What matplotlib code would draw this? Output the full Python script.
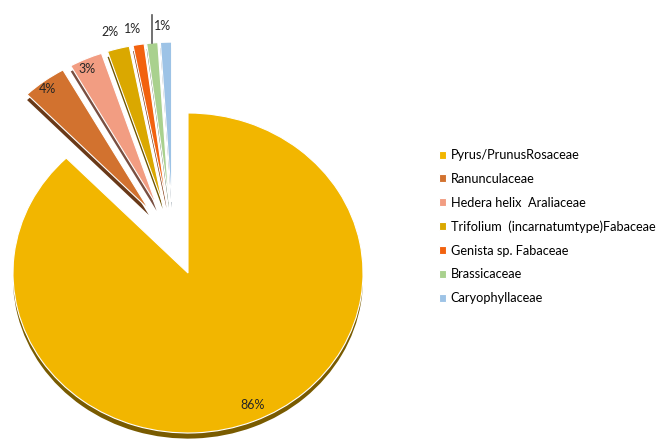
import numpy as np
import matplotlib.pyplot as plt
from matplotlib.colors import to_rgb

plt.rcParams['font.family'] = ['Lato', 'DejaVu Sans']

families = ['Pyrus/PrunusRosaceae', 'Ranunculaceae', 'Hedera helix  Araliaceae',
            'Trifolium  (incarnatumtype)Fabaceae', 'Genista sp. Fabaceae',
            'Brassicaceae', 'Caryophyllaceae']
shares = [86, 4, 3, 2, 1, 1, 1]
pct_text = ['86%', '4%', '3%', '2%', '1%', '', '1%']

colors = ['#F2B600', '#D2722F', '#F29D82', '#DAA800', '#F2620F', '#A9D18E', '#9DC3E6']
dark = [tuple(c * 0.5 for c in to_rgb(col)) for col in colors]

# label placement: (distance from slice apex, angle nudge in degrees)
lab_pos = [(0.9, 2), (0.95, 1), (0.94, 1), (1.11, 1), (1.1, 1), (0, 0), (1.1, 1)]

fig = plt.figure(figsize=(6.61, 4.40), dpi=100)
ax = fig.add_axes([0, 0, 1, 1])

depth = 0.035
expl = 0.23
# put the apex of the big exploded slice at the origin
big_mid = np.deg2rad(90 - 0.5 * shares[0] / sum(shares) * 360)
ctr = (-expl * np.cos(big_mid), -expl * np.sin(big_mid))

shadow, _ = ax.pie(shares, colors=dark, startangle=90, counterclock=False,
                   explode=[expl] * len(shares), center=(ctr[0], ctr[1] - depth),
                   wedgeprops=dict(linewidth=0))
front, _ = ax.pie(shares, colors=colors, startangle=90, counterclock=False,
                  explode=[expl] * len(shares), center=ctr,
                  wedgeprops=dict(edgecolor='white', linewidth=0.8))

for w in shadow:
    w.set_zorder(1)
for w in front:
    w.set_zorder(2)

for i, w in enumerate(front):
    if not pct_text[i]:
        continue
    r, nudge = lab_pos[i]
    ang = np.deg2rad((w.theta1 + w.theta2) / 2 + nudge)
    cx, cy = w.center
    ax.text(cx + r * np.cos(ang), cy + r * np.sin(ang), pct_text[i],
            ha='center', va='center', fontsize=9, color='#262626', zorder=5)

# leader line for the Brassicaceae slice
w = front[5]
ang = np.deg2rad((w.theta1 + w.theta2) / 2)
lx = w.center[0] + np.cos(ang)
ax.plot([lx, lx], [w.center[1] + np.sin(ang), w.center[1] + 1.17],
        color='#595959', linewidth=1.2, zorder=4)

ax.set_aspect('auto')
ax.set_xlim(-188 / 175, (661 - 188) / 175)
ax.set_ylim((273 - 440) / 160, 273 / 160)
ax.axis('off')

fig.legend(handles=front, labels=families, loc='upper left',
           bbox_to_anchor=(434 / 661, 1 - 144 / 440), frameon=False,
           fontsize=9.2, handlelength=0.57, handleheight=0.57,
           handletextpad=0.35, labelspacing=0.92, borderaxespad=0)

fig.savefig('out.png', dpi=100)
